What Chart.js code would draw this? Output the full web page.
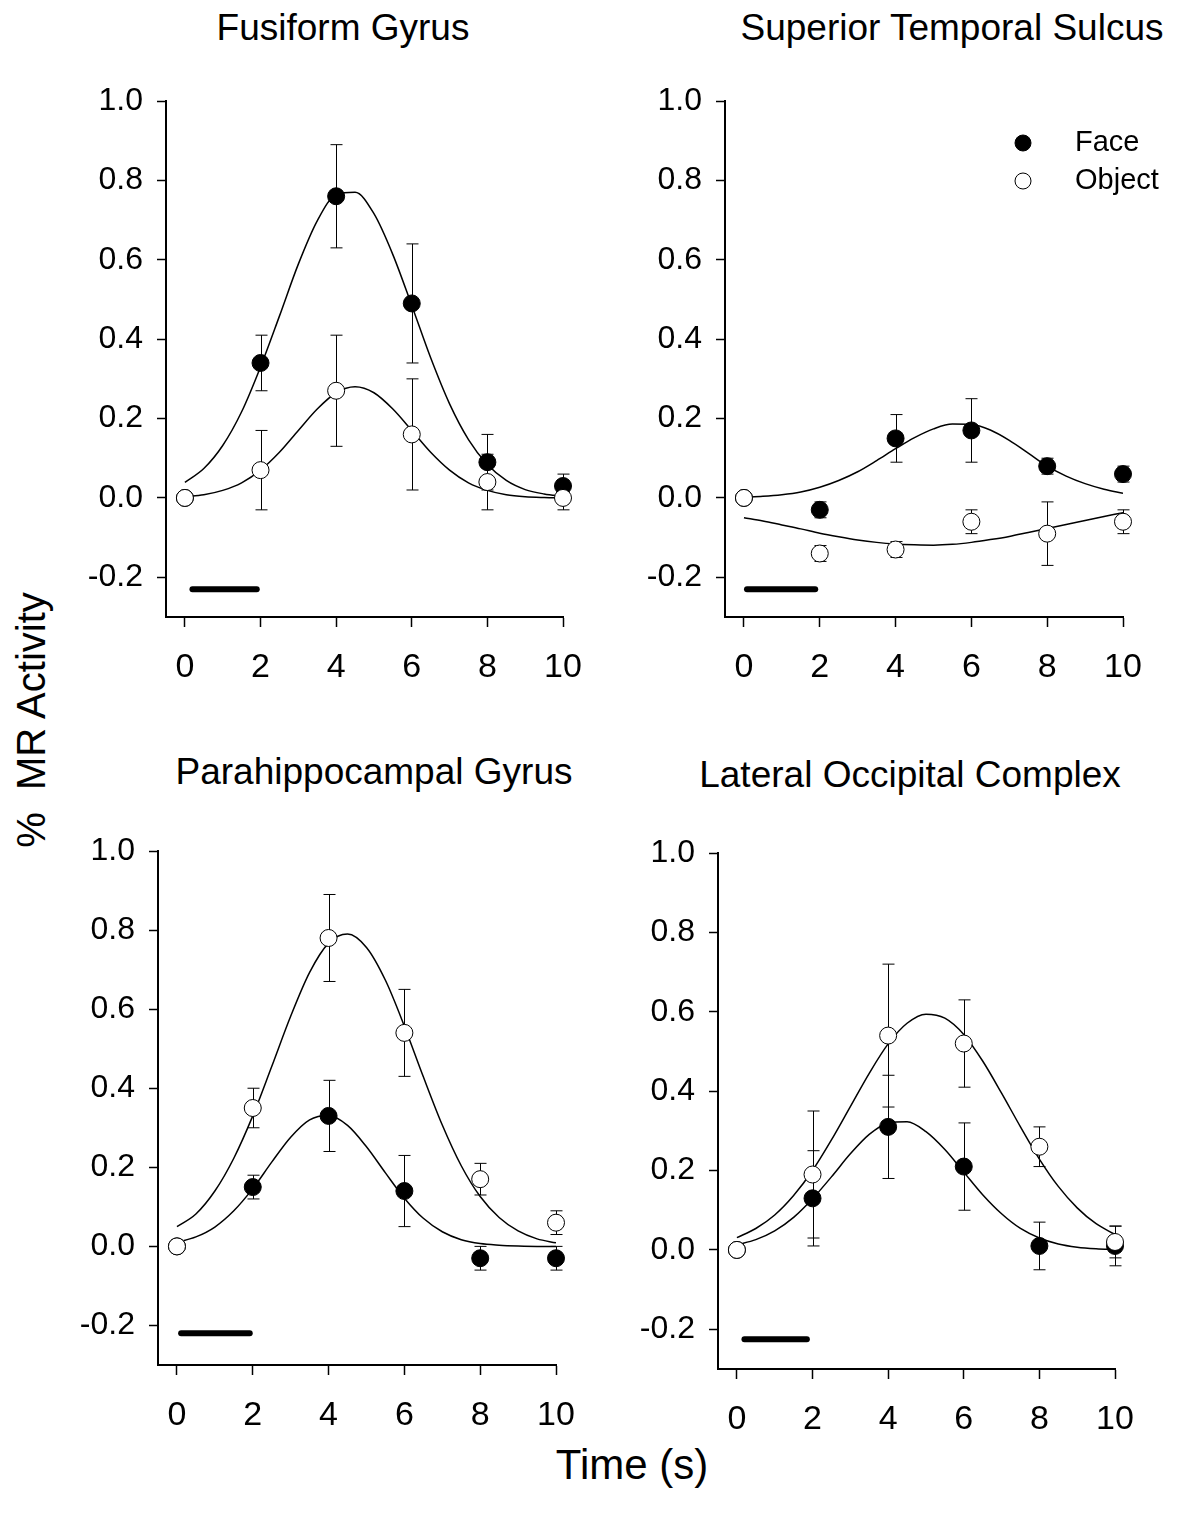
<!DOCTYPE html>
<html>
<head>
<meta charset="utf-8">
<script src="https://cdn.jsdelivr.net/npm/chart.js"></script>
<style>
body{margin:0;background:#fff;width:1181px;height:1517px;position:relative;overflow:hidden;font-family:"Liberation Sans",Arial,sans-serif;}
canvas{position:absolute;}
.lbl{position:absolute;white-space:nowrap;color:#000;line-height:1;transform:translate(-50%,-50%);}
</style>
</head>
<body>

<div class="lbl" style="left:343px;top:27px;font-size:37px">Fusiform Gyrus</div>
<div class="lbl" style="left:952px;top:27px;font-size:37px">Superior Temporal Sulcus</div>
<div class="lbl" style="left:374px;top:771px;font-size:37px">Parahippocampal Gyrus</div>
<div class="lbl" style="left:910px;top:774px;font-size:37px">Lateral Occipital Complex</div>
<div class="lbl" style="left:31px;top:720px;font-size:40px;transform:translate(-50%,-50%) rotate(-90deg)">%&nbsp; MR Activity</div>
<div class="lbl" style="left:632px;top:1465px;font-size:42px">Time (s)</div>

<canvas id="ffa" width="527" height="616" style="left:66px;top:81px"></canvas>
<canvas id="sts" width="556" height="616" style="left:625px;top:81px"></canvas>
<canvas id="phg" width="528" height="614" style="left:58px;top:831px"></canvas>
<canvas id="loc" width="527" height="616" style="left:618px;top:833px"></canvas>

<script>
var FONT = "'Liberation Sans', Arial, sans-serif";

var timeX = [0, 2, 4, 6, 8, 10];
var fitX = [0, 0.5, 1, 1.5, 2, 2.5, 3, 3.5, 4, 4.5, 5, 5.5, 6, 6.5, 7, 7.5, 8, 8.5, 9, 9.5, 10];
var xTicks = [0, 2, 4, 6, 8, 10];
var yTicks = [-0.2, 0, 0.2, 0.4, 0.6, 0.8, 1.0];

/* Fusiform Gyrus */
var ffaFace = [0, 0.34, 0.76, 0.49, 0.09, 0.03];
var ffaFaceErr = [0, 0.07, 0.13, 0.15, 0.07, 0.03];
var ffaObject = [0, 0.07, 0.27, 0.16, 0.04, 0.00];
var ffaObjectErr = [0, 0.10, 0.14, 0.14, 0.07, 0.03];
var ffaFaceFit = [0.039,0.074,0.132,0.217,0.330,0.458,0.589,0.698,0.764,0.770,0.716,0.613,0.485,0.353,0.237,0.147,0.084,0.044,0.021,0.010,0.004];
var ffaObjectFit = [0.003,0.008,0.019,0.038,0.070,0.115,0.170,0.224,0.265,0.280,0.265,0.224,0.170,0.115,0.070,0.038,0.019,0.008,0.003,0.001,0.000];
var ffaStimX = [0.2, 1.9];
var ffaStimY = [-0.23, -0.23];

/* Superior Temporal Sulcus */
var stsFace = [0, -0.03, 0.15, 0.17, 0.08, 0.06];
var stsFaceErr = [0, 0.02, 0.06, 0.08, 0.02, 0.02];
var stsObject = [0, -0.14, -0.13, -0.06, -0.09, -0.06];
var stsObjectErr = [0, 0.02, 0.02, 0.03, 0.08, 0.03];
var stsFaceFit = [0.002,0.004,0.008,0.015,0.027,0.044,0.066,0.094,0.124,0.152,0.174,0.186,0.185,0.171,0.145,0.113,0.080,0.055,0.036,0.022,0.012];
var stsObjectFit = [-0.050,-0.058,-0.068,-0.078,-0.089,-0.098,-0.106,-0.112,-0.116,-0.118,-0.119,-0.117,-0.112,-0.105,-0.097,-0.087,-0.077,-0.067,-0.057,-0.047,-0.037];
var stsStimX = [0.08, 1.88];
var stsStimY = [-0.23, -0.23];

/* Parahippocampal Gyrus */
var phgFace = [0, 0.15, 0.33, 0.14, -0.03, -0.03];
var phgFaceErr = [0, 0.03, 0.09, 0.09, 0.03, 0.03];
var phgObject = [0, 0.35, 0.78, 0.54, 0.17, 0.06];
var phgObjectErr = [0, 0.05, 0.11, 0.11, 0.04, 0.03];
var phgFaceFit = [0.010,0.024,0.049,0.090,0.146,0.213,0.276,0.320,0.331,0.306,0.252,0.186,0.122,0.071,0.037,0.017,0.007,0.003,0.001,0.000,0.000];
var phgObjectFit = [0.050,0.082,0.140,0.223,0.330,0.455,0.582,0.693,0.767,0.790,0.756,0.673,0.557,0.429,0.307,0.204,0.126,0.073,0.039,0.019,0.009];
var phgStimX = [0.11, 1.92];
var phgStimY = [-0.22, -0.22];

/* Lateral Occipital Complex */
var locFace = [0, 0.13, 0.31, 0.21, 0.01, 0.01];
var locFaceErr = [0, 0.12, 0.13, 0.11, 0.06, 0.05];
var locObject = [0, 0.19, 0.54, 0.52, 0.26, 0.02];
var locObjectErr = [0, 0.16, 0.18, 0.11, 0.05, 0.04];
var locFaceFit = [0.013,0.026,0.048,0.082,0.129,0.184,0.242,0.291,0.320,0.323,0.298,0.253,0.196,0.139,0.091,0.054,0.030,0.015,0.007,0.003,0.001];
var locObjectFit = [0.031,0.054,0.088,0.137,0.200,0.277,0.361,0.445,0.519,0.571,0.594,0.584,0.543,0.476,0.395,0.310,0.229,0.160,0.106,0.066,0.039];
var locStimX = [0.2, 1.85];
var locStimY = [-0.225, -0.225];

var legendLabels = ['Face', 'Object'];

function pts(xs, ys){
	var out = [];
	for(var i = 0; i < xs.length; i++){ out.push({x: xs[i], y: ys[i]}); }
	return out;
}

/* error bars under the markers */
function errorBars(sets){
	return {
		id: 'errorBars',
		beforeDatasetsDraw: function(chart){
			var ctx = chart.ctx, xs = chart.scales.x, ys = chart.scales.y;
			ctx.save();
			ctx.strokeStyle = '#000';
			ctx.lineWidth = 1;
			sets.forEach(function(s){
				for(var i = 0; i < s.y.length; i++){
					if(!s.err[i]) continue;
					var px = Math.round(xs.getPixelForValue(s.x[i])) + 0.5;
					var top = ys.getPixelForValue(s.y[i] + s.err[i]);
					var bot = ys.getPixelForValue(s.y[i] - s.err[i]);
					ctx.beginPath();
					ctx.moveTo(px, top); ctx.lineTo(px, bot);
					ctx.moveTo(px - 6, top); ctx.lineTo(px + 6, top);
					ctx.moveTo(px - 6, bot); ctx.lineTo(px + 6, bot);
					ctx.stroke();
				}
			});
			ctx.restore();
		}
	};
}

var legendPlugin = {
	id: 'faceLegend',
	afterDraw: function(chart){
		var ctx = chart.ctx;
		ctx.save();
		ctx.lineWidth = 1;
		ctx.strokeStyle = '#000';
		ctx.beginPath(); ctx.arc(398, 62, 8, 0, Math.PI * 2);
		ctx.fillStyle = '#000'; ctx.fill(); ctx.stroke();
		ctx.beginPath(); ctx.arc(398, 100, 8, 0, Math.PI * 2);
		ctx.fillStyle = '#fff'; ctx.fill(); ctx.stroke();
		ctx.fillStyle = '#000';
		ctx.font = '29px ' + FONT;
		ctx.textBaseline = 'middle';
		ctx.fillText(legendLabels[0], 450, 62);
		ctx.fillText(legendLabels[1], 450, 100);
		ctx.restore();
	}
};

function noPad(s){
	s.paddingTop = 0; s.paddingBottom = 0;
	s.paddingLeft = 0; s.paddingRight = 0;
}

function makePanel(id, face, faceErr, obj, objErr, faceFit, objFit, stimX, stimY, withLegend){
	var plugins = [errorBars([
		{x: timeX, y: face, err: faceErr},
		{x: timeX, y: obj, err: objErr}
	])];
	if(withLegend) plugins.push(legendPlugin);
	var canvas = document.getElementById(id);
	var plotW = id == 'sts' || id == 'phg' ? 398 : 397;

	return new Chart(canvas, {
		type: 'scatter',
		data: {
			datasets: [{
				label: 'Object',
				data: pts(timeX, obj),
				pointRadius: 8.5,
				pointBackgroundColor: '#fff',
				pointBorderColor: '#000',
				pointBorderWidth: 1,
				clip: false
			}, {
				label: 'Face',
				data: pts(timeX, face),
				pointRadius: 8.5,
				pointBackgroundColor: '#000',
				pointBorderColor: '#000',
				pointBorderWidth: 1,
				clip: false
			}, {
				label: 'Face fit',
				data: pts(fitX, faceFit),
				showLine: true,
				pointRadius: 0,
				borderColor: '#000',
				borderWidth: 1.5,
				cubicInterpolationMode: 'monotone'
			}, {
				label: 'Object fit',
				data: pts(fitX, objFit),
				showLine: true,
				pointRadius: 0,
				borderColor: '#000',
				borderWidth: 1.5,
				cubicInterpolationMode: 'monotone'
			}, {
				label: 'Stimulus',
				data: pts(stimX, stimY),
				showLine: true,
				pointRadius: 0,
				borderColor: '#000',
				borderWidth: 6,
				borderCapStyle: 'round'
			}]
		},
		options: {
			responsive: false,
			animation: false,
			events: [],
			layout: {padding: {top: 20, right: canvas.width - 100 - plotW, left: 0, bottom: 0}},
			plugins: {legend: {display: false}, tooltip: {enabled: false}},
			scales: {
				x: {
					type: 'linear', min: -0.5, max: 10,
					afterBuildTicks: function(s){ s.ticks = xTicks.map(function(v){ return {value: v}; }); },
					afterFit: function(s){ s.height = 80; noPad(s); },
					border: {display: true, color: '#000', width: 2},
					grid: {display: true, drawOnChartArea: false, drawTicks: true, tickLength: 10, color: '#000', tickWidth: 1.5},
					ticks: {color: '#000', font: {family: FONT, size: 34}, padding: 20, maxRotation: 0, autoSkip: false}
				},
				y: {
					type: 'linear', min: -0.3, max: 1.0,
					afterBuildTicks: function(s){ s.ticks = yTicks.map(function(v){ return {value: v}; }); },
					afterFit: function(s){ s.width = 100; noPad(s); },
					border: {display: true, color: '#000', width: 2},
					grid: {display: true, drawOnChartArea: false, drawTicks: true, tickLength: 9, color: '#000', tickWidth: 1.5},
					ticks: {color: '#000', font: {family: FONT, size: 32}, padding: 14,
						callback: function(v){ return v.toFixed(1); }}
				}
			}
		},
		plugins: plugins
	});
}

makePanel('ffa', ffaFace, ffaFaceErr, ffaObject, ffaObjectErr, ffaFaceFit, ffaObjectFit, ffaStimX, ffaStimY, false);
makePanel('sts', stsFace, stsFaceErr, stsObject, stsObjectErr, stsFaceFit, stsObjectFit, stsStimX, stsStimY, true);
makePanel('phg', phgFace, phgFaceErr, phgObject, phgObjectErr, phgFaceFit, phgObjectFit, phgStimX, phgStimY, false);
makePanel('loc', locFace, locFaceErr, locObject, locObjectErr, locFaceFit, locObjectFit, locStimX, locStimY, false);
</script>
</body>
</html>
